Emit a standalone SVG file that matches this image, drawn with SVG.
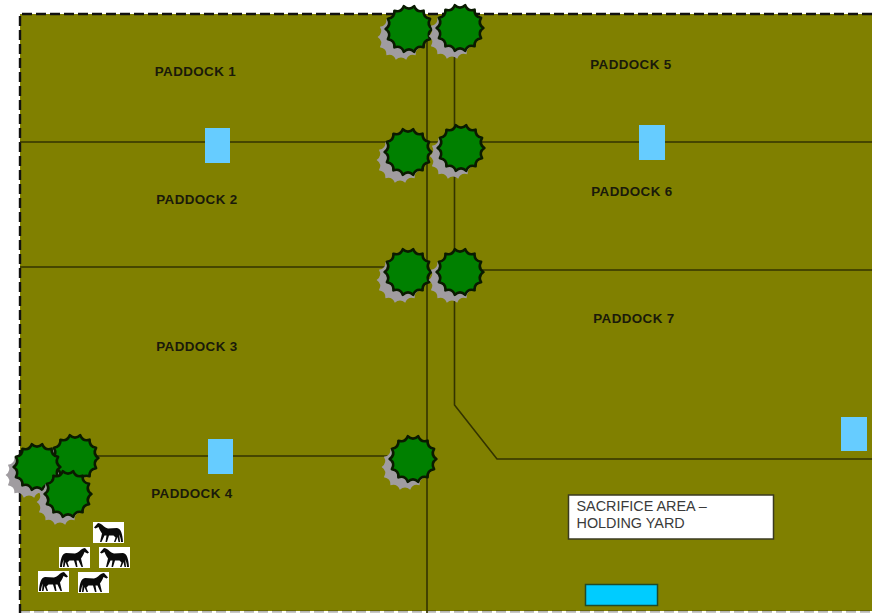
<svg xmlns="http://www.w3.org/2000/svg" width="872" height="613" viewBox="0 0 872 613">
<style>
.fence{fill:none;stroke:#333300;stroke-width:1.6}
.boundary{fill:none;stroke:#111;stroke-width:2.4;stroke-dasharray:10 4}
.label{font-family:"Liberation Sans",Arial,sans-serif;font-weight:700;font-size:13.4px;fill:#1a1a0a;text-anchor:middle;letter-spacing:.4px}
.note{font-family:"Liberation Sans",Arial,sans-serif;font-size:14.4px;fill:#3a3a3a}
.trough{fill:#66ccff}
.crown{fill:#008000;stroke:#0a1a00;stroke-width:2.6;stroke-linejoin:round}
.shade{fill:#a09ca0}
</style>
<defs>
<path id="crown" d="M23.400 0Q17.500 4 21.100 10.200Q14 11.200 14.600 18.300Q7.800 16.200 5.200 22.800Q0 18 -5.200 22.800Q-7.800 16.200 -14.600 18.300Q-14 11.200 -21.100 10.200Q-17.500 4 -23.400 0Q-17.500 -4 -21.100 -10.200Q-14 -11.200 -14.600 -18.300Q-7.800 -16.200 -5.200 -22.800Q0 -18 5.200 -22.800Q7.800 -16.200 14.600 -18.300Q14 -11.200 21.100 -10.200Q17.500 -4 23.400 0Z"/>
<g id="tree"><use href="#crown" class="shade" x="-8" y="8"/><use href="#crown" class="crown"/></g>
<g id="horse">
<rect width="31" height="21" fill="#fff"/>
<path d="M1 20C1.500 12 3 6.500 7 6L16 6.500C19 6 21 3 24 1.500L26 1L30 5.500L28.500 6.500L25.500 5C24.500 8 23 10 22 11.500L24 20H22.500L19.500 13.500L17.500 13.500L18.500 20H17L15 13.500L10.500 13.500L8.500 15.500L10 20H8.500L6.500 15L5.500 20H4L4.700 12.500C4 14.500 3 17 3 20Z" fill="#0a0a0a"/>
</g>
</defs>
<rect width="872" height="613" fill="#fff"/>
<rect x="20" y="14" width="860" height="597" fill="#808000"/>
<g id="boundary"><path class="boundary" d="M872 14H20V613"/><path class="boundary" d="M20 611.500H872" stroke-opacity=".3"/></g>
<g id="connectors">
<path class="fence" d="M427 30V613"/>
<path class="fence" d="M454.500 30V405L497 459H872"/>
<path class="fence" d="M20 142H872"/>
<path class="fence" d="M20 267H427"/>
<path class="fence" d="M460 270H872"/>
<path class="fence" d="M90 456H427"/>
</g>
<g id="troughs">
<rect class="trough" x="205" y="128" width="25" height="35"/>
<rect class="trough" x="639" y="125" width="26" height="35"/>
<rect class="trough" x="208" y="439" width="25" height="35"/>
<rect class="trough" x="841" y="417" width="26" height="34"/>
<rect x="585.500" y="584.500" width="72" height="21" fill="#00ccff" stroke="#1f4a2a" stroke-width="1.500"/>
</g>
<g id="trees">
<use href="#tree" x="409" y="29"/><use href="#tree" x="460" y="28"/>
<use href="#tree" x="408" y="152"/><use href="#tree" x="461" y="148"/>
<use href="#tree" x="408" y="272"/><use href="#tree" x="460" y="272"/>
<use href="#tree" x="413" y="459"/>
<use href="#tree" x="75" y="458"/><use href="#tree" x="37" y="467"/><use href="#tree" x="68" y="494"/>
</g>
<g id="horses">
<use href="#horse" transform="matrix(-1 0 0 1 124 522)"/>
<use href="#horse" x="59" y="547"/>
<use href="#horse" transform="matrix(-1 0 0 1 130 547)"/>
<use href="#horse" x="38" y="571"/>
<use href="#horse" x="78" y="572"/>
</g>
<g id="paddock-labels">
<text class="label" x="195.500" y="76">PADDOCK 1</text>
<text class="label" x="197" y="204">PADDOCK 2</text>
<text class="label" x="197" y="351">PADDOCK 3</text>
<text class="label" x="192" y="498">PADDOCK 4</text>
<text class="label" x="631" y="69">PADDOCK 5</text>
<text class="label" x="632" y="196">PADDOCK 6</text>
<text class="label" x="634" y="323">PADDOCK 7</text>
</g>
<g id="sacrifice-area">
<rect x="568.500" y="495" width="205" height="44" fill="#fff" stroke="#3a3a20" stroke-width="1.500"/>
<text class="note" x="576.500" y="511">SACRIFICE AREA –</text>
<text class="note" x="576.500" y="528">HOLDING YARD</text>
</g>
</svg>
